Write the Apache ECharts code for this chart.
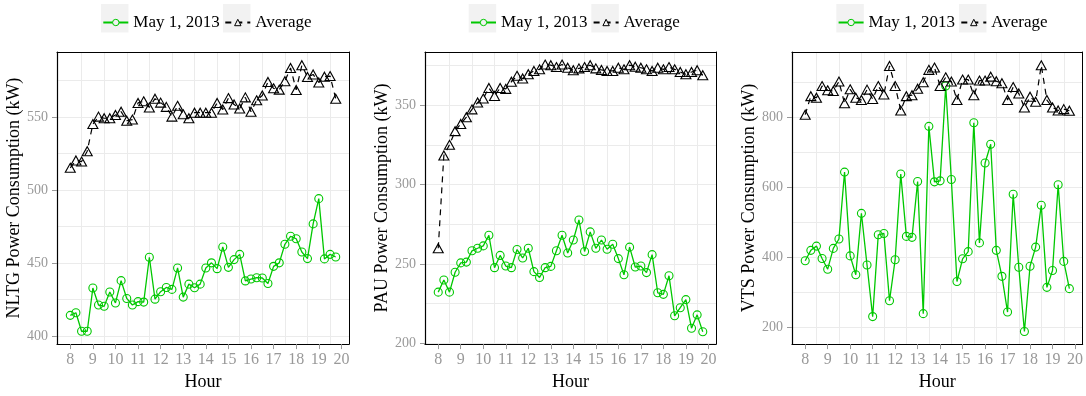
<!DOCTYPE html>
<html>
<head>
<meta charset="utf-8">
<script src="https://cdn.jsdelivr.net/npm/echarts@6/dist/echarts.min.js"></script>
<style>
html, body { margin: 0; padding: 0; background: #ffffff; }
#chart { width: 1086px; height: 396px; }
</style>
</head>
<body>
<div id="chart"></div>
<script>
// ---------------- data ----------------
const HOURS = [8, 8.25, 8.5, 8.75, 9, 9.25, 9.5, 9.75, 10, 10.25, 10.5, 10.75,
  11, 11.25, 11.5, 11.75, 12, 12.25, 12.5, 12.75, 13, 13.25, 13.5, 13.75,
  14, 14.25, 14.5, 14.75, 15, 15.25, 15.5, 15.75, 16, 16.25, 16.5, 16.75,
  17, 17.25, 17.5, 17.75, 18, 18.25, 18.5, 18.75, 19, 19.25, 19.5, 19.75];
const X_TICKS = [8, 9, 10, 11, 12, 13, 14, 15, 16, 17, 18, 19, 20];
const X_GRID = [8.5, 9.5, 10.5, 11.5, 12.5, 13.5, 14.5, 15.5, 16.5, 17.5, 18.5, 19.5];
const SERIES_NAMES = ['May 1, 2013', 'Average'];
const X_TITLE = 'Hour';

const NLTG_MAY1 = [414.2, 416.0, 403.3, 403.3, 432.9, 421.3, 420.4, 430.2, 422.7, 438.0, 425.8, 421.3,
  423.6, 423.3, 454.0, 425.3, 430.4, 433.3, 432.0, 446.7, 426.7, 435.6, 433.1, 435.6,
  446.7, 450.2, 446.2, 461.1, 447.1, 452.4, 456.0, 437.8, 439.1, 440.0, 439.8, 436.0,
  447.8, 450.2, 462.9, 468.4, 466.7, 457.6, 453.1, 476.9, 494.2, 452.9, 456.0, 454.2];
const NLTG_AVG = [515.3, 520.4, 519.6, 526.7, 545.3, 550.4, 549.3, 549.3, 551.5, 553.8, 547.6, 548.4,
  559.8, 560.9, 556.7, 562.7, 560.0, 557.1, 550.4, 557.8, 552.0, 549.3, 553.1, 553.1,
  553.1, 553.1, 559.8, 555.3, 563.1, 558.7, 556.0, 563.6, 553.8, 561.6, 564.9, 574.2,
  569.8, 568.9, 574.7, 583.8, 568.7, 585.6, 577.6, 579.3, 573.8, 577.8, 578.2, 562.7];
const NLTG_Y_TICKS = [400, 450, 500, 550];
const NLTG_Y_GRID = [400, 425, 450, 475, 500, 525, 550, 575];
const NLTG_TITLE = 'NLTG Power Consumption (kW)';

const PAU_MAY1 = [232.3, 239.9, 232.3, 244.8, 250.7, 251.2, 258.3, 259.9, 261.4, 268.1, 247.7, 255.4,
  248.7, 247.7, 259.1, 253.8, 259.9, 245.2, 241.5, 247.7, 248.5, 258.3, 268.1, 256.9,
  265.1, 277.7, 257.9, 270.2, 259.9, 265.1, 259.3, 262.4, 253.4, 243.2, 260.6, 248.1,
  248.7, 244.6, 255.9, 231.9, 230.9, 242.6, 217.4, 222.5, 227.6, 209.6, 218.0, 207.4];
const PAU_AVG = [259.9, 318.3, 325.0, 333.6, 338.1, 342.4, 347.3, 351.6, 354.1, 360.8, 355.7, 360.8,
  360.2, 364.7, 368.4, 366.7, 369.4, 371.5, 372.5, 375.5, 375.1, 373.9, 375.5, 373.5,
  371.9, 373.1, 373.9, 375.1, 373.1, 372.1, 371.5, 371.5, 373.5, 372.5, 375.1, 374.1,
  373.5, 372.5, 371.5, 373.5, 372.5, 373.9, 372.5, 370.8, 369.4, 370.8, 371.9, 368.8];
const PAU_Y_TICKS = [200, 250, 300, 350];
const PAU_Y_GRID = [200, 225, 250, 275, 300, 325, 350, 375];
const PAU_TITLE = 'PAU Power Consumption (kW)';

const VTS_MAY1 = [390.1, 419.8, 431.9, 396.6, 366.0, 425.4, 452.2, 643.3, 404.0, 350.2, 525.5, 378.1,
  230.6, 464.3, 468.0, 276.0, 392.9, 637.7, 459.7, 456.9, 616.4, 239.0, 774.0, 615.5,
  618.3, 889.1, 622.0, 330.8, 395.7, 416.1, 784.3, 441.1, 669.3, 723.0, 419.8, 345.6,
  243.6, 580.2, 371.6, 188.0, 374.3, 429.1, 548.7, 314.1, 362.3, 607.1, 388.3, 310.4];
const VTS_AVG = [807.4, 860.3, 855.7, 889.1, 877.0, 875.1, 902.0, 839.9, 879.8, 855.7, 849.2, 878.9,
  852.0, 889.1, 865.0, 946.6, 889.1, 819.5, 860.3, 863.1, 881.6, 900.2, 935.4, 941.9,
  889.1, 914.1, 902.0, 849.2, 907.6, 907.6, 863.1, 904.8, 904.8, 916.0, 903.0, 897.4,
  849.2, 886.3, 867.8, 827.8, 858.5, 844.5, 948.4, 849.2, 827.8, 819.5, 823.2, 818.6];
const VTS_Y_TICKS = [200, 400, 600, 800];
const VTS_Y_GRID = [200, 300, 400, 500, 600, 700, 800, 900];
const VTS_TITLE = 'VTS Power Consumption (kW)';

// ---------------- layout / style ----------------
const FONT = '"Liberation Serif", "DejaVu Serif", serif';
const GREEN = '#00C800';
const GRID_COLOR = '#ebebeb';
const LABEL_COLOR = '#999999';
const KEY_COLORS = [GREEN, '#000000'];

const panels = [
  { may: NLTG_MAY1, avg: NLTG_AVG, yTicks: NLTG_Y_TICKS, yGrid: NLTG_Y_GRID, title: NLTG_TITLE,
    grid: { left: 57, top: 52, width: 292, height: 300 }, yMin: 394.5, yMax: 594.7,
    keys: [101, 223] },
  { may: PAU_MAY1, avg: PAU_AVG, yTicks: PAU_Y_TICKS, yGrid: PAU_Y_GRID, title: PAU_TITLE,
    grid: { left: 425, top: 52, width: 291, height: 300 }, yMin: 199.6, yMax: 383.4,
    keys: [468.7, 591.3] },
  { may: VTS_MAY1, avg: VTS_AVG, yTicks: VTS_Y_TICKS, yGrid: VTS_Y_GRID, title: VTS_TITLE,
    grid: { left: 792, top: 52, width: 292, height: 300 }, yMin: 152, yMax: 986.4,
    keys: [836.3, 959] }
];
const X_MIN = 7.4125, X_MAX = 20.3375;

const option = {
  backgroundColor: '#ffffff',
  animation: false,
  grid: [], xAxis: [], yAxis: [], series: [], legend: [], graphic: []
};

panels.forEach((p, i) => {
  option.grid.push(Object.assign({ containLabel: false }, p.grid));
  // main x axis
  option.xAxis.push({
    type: 'value', gridIndex: i, min: X_MIN, max: X_MAX, position: 'bottom',
    name: X_TITLE, nameLocation: 'middle', nameGap: 24,
    nameTextStyle: { fontFamily: FONT, fontSize: 18, color: '#000' },
    axisLine: { show: true, onZero: false, lineStyle: { color: '#000', width: 1.2 } },
    axisTick: { show: true, length: 5, lineStyle: { color: '#999', width: 1 }, customValues: X_TICKS },
    axisLabel: { customValues: X_TICKS, color: LABEL_COLOR, fontFamily: FONT, fontSize: 16, margin: 8 },
    splitLine: { show: false }
  });
  // grid-line x axis (top border)
  option.xAxis.push({
    type: 'value', gridIndex: i, min: X_MIN, max: X_MAX, position: 'top',
    axisLine: { show: true, onZero: false, lineStyle: { color: '#000', width: 1 } },
    axisTick: { show: false, customValues: X_GRID },
    axisLabel: { show: false, customValues: X_GRID },
    splitLine: { show: true, lineStyle: { color: GRID_COLOR, width: 1 } }
  });
  // main y axis
  option.yAxis.push({
    type: 'value', gridIndex: i, min: p.yMin, max: p.yMax, position: 'left',
    name: p.title, nameLocation: 'middle', nameGap: 29, nameRotate: 90,
    nameTextStyle: { fontFamily: FONT, fontSize: 18, color: '#000' },
    axisLine: { show: true, onZero: false, lineStyle: { color: '#000', width: 1.2 } },
    axisTick: { show: true, length: 5, lineStyle: { color: '#999', width: 1 }, customValues: p.yTicks },
    axisLabel: { customValues: p.yTicks, color: LABEL_COLOR, fontFamily: FONT, fontSize: 14, margin: 9 },
    splitLine: { show: false }
  });
  // grid-line y axis (right border)
  option.yAxis.push({
    type: 'value', gridIndex: i, min: p.yMin, max: p.yMax, position: 'right',
    axisLine: { show: true, onZero: false, lineStyle: { color: '#000', width: 1 } },
    axisTick: { show: false, customValues: p.yGrid },
    axisLabel: { show: false, customValues: p.yGrid },
    splitLine: { show: true, lineStyle: { color: GRID_COLOR, width: 1 } }
  });

  option.series.push({
    type: 'line', name: SERIES_NAMES[0], xAxisIndex: 2 * i, yAxisIndex: 2 * i,
    data: HOURS.map((h, k) => [h, p.may[k]]),
    symbol: 'circle', symbolSize: 8, showAllSymbol: true,
    lineStyle: { color: GREEN, width: 1.3 },
    itemStyle: { color: 'transparent', borderColor: GREEN, borderWidth: 1.1 },
    emphasis: { disabled: true }, z: 3
  });
  option.series.push({
    type: 'line', name: SERIES_NAMES[1], xAxisIndex: 2 * i, yAxisIndex: 2 * i,
    data: HOURS.map((h, k) => [h, p.avg[k]]),
    symbol: 'triangle', symbolSize: [10, 9], showAllSymbol: true,
    lineStyle: { color: '#000', width: 1.2, type: [6, 5] },
    itemStyle: { color: 'transparent', borderColor: '#000', borderWidth: 1.1 },
    emphasis: { disabled: true }, z: 3
  });

  // legend keys (grey boxes as in the original)
  p.keys.forEach((kx, j) => {
    option.graphic.push({
      type: 'rect', z: 0, silent: true,
      shape: { x: kx, y: 4, width: 27.5, height: 28.5 },
      style: { fill: '#f2f2f2' }
    });
    option.legend.push({
      data: [SERIES_NAMES[j]], left: kx + 1.3, top: 14, padding: 0,
      itemWidth: 25, itemHeight: 8, itemGap: 0,
      itemStyle: { color: '#f2f2f2', borderColor: KEY_COLORS[j], borderWidth: 1 },
      textStyle: { fontFamily: FONT, fontSize: 17, color: '#000' }
    });
  });
});

const chart = echarts.init(document.getElementById('chart'), null, { renderer: 'canvas' });
chart.setOption(option);
</script>
</body>
</html>
